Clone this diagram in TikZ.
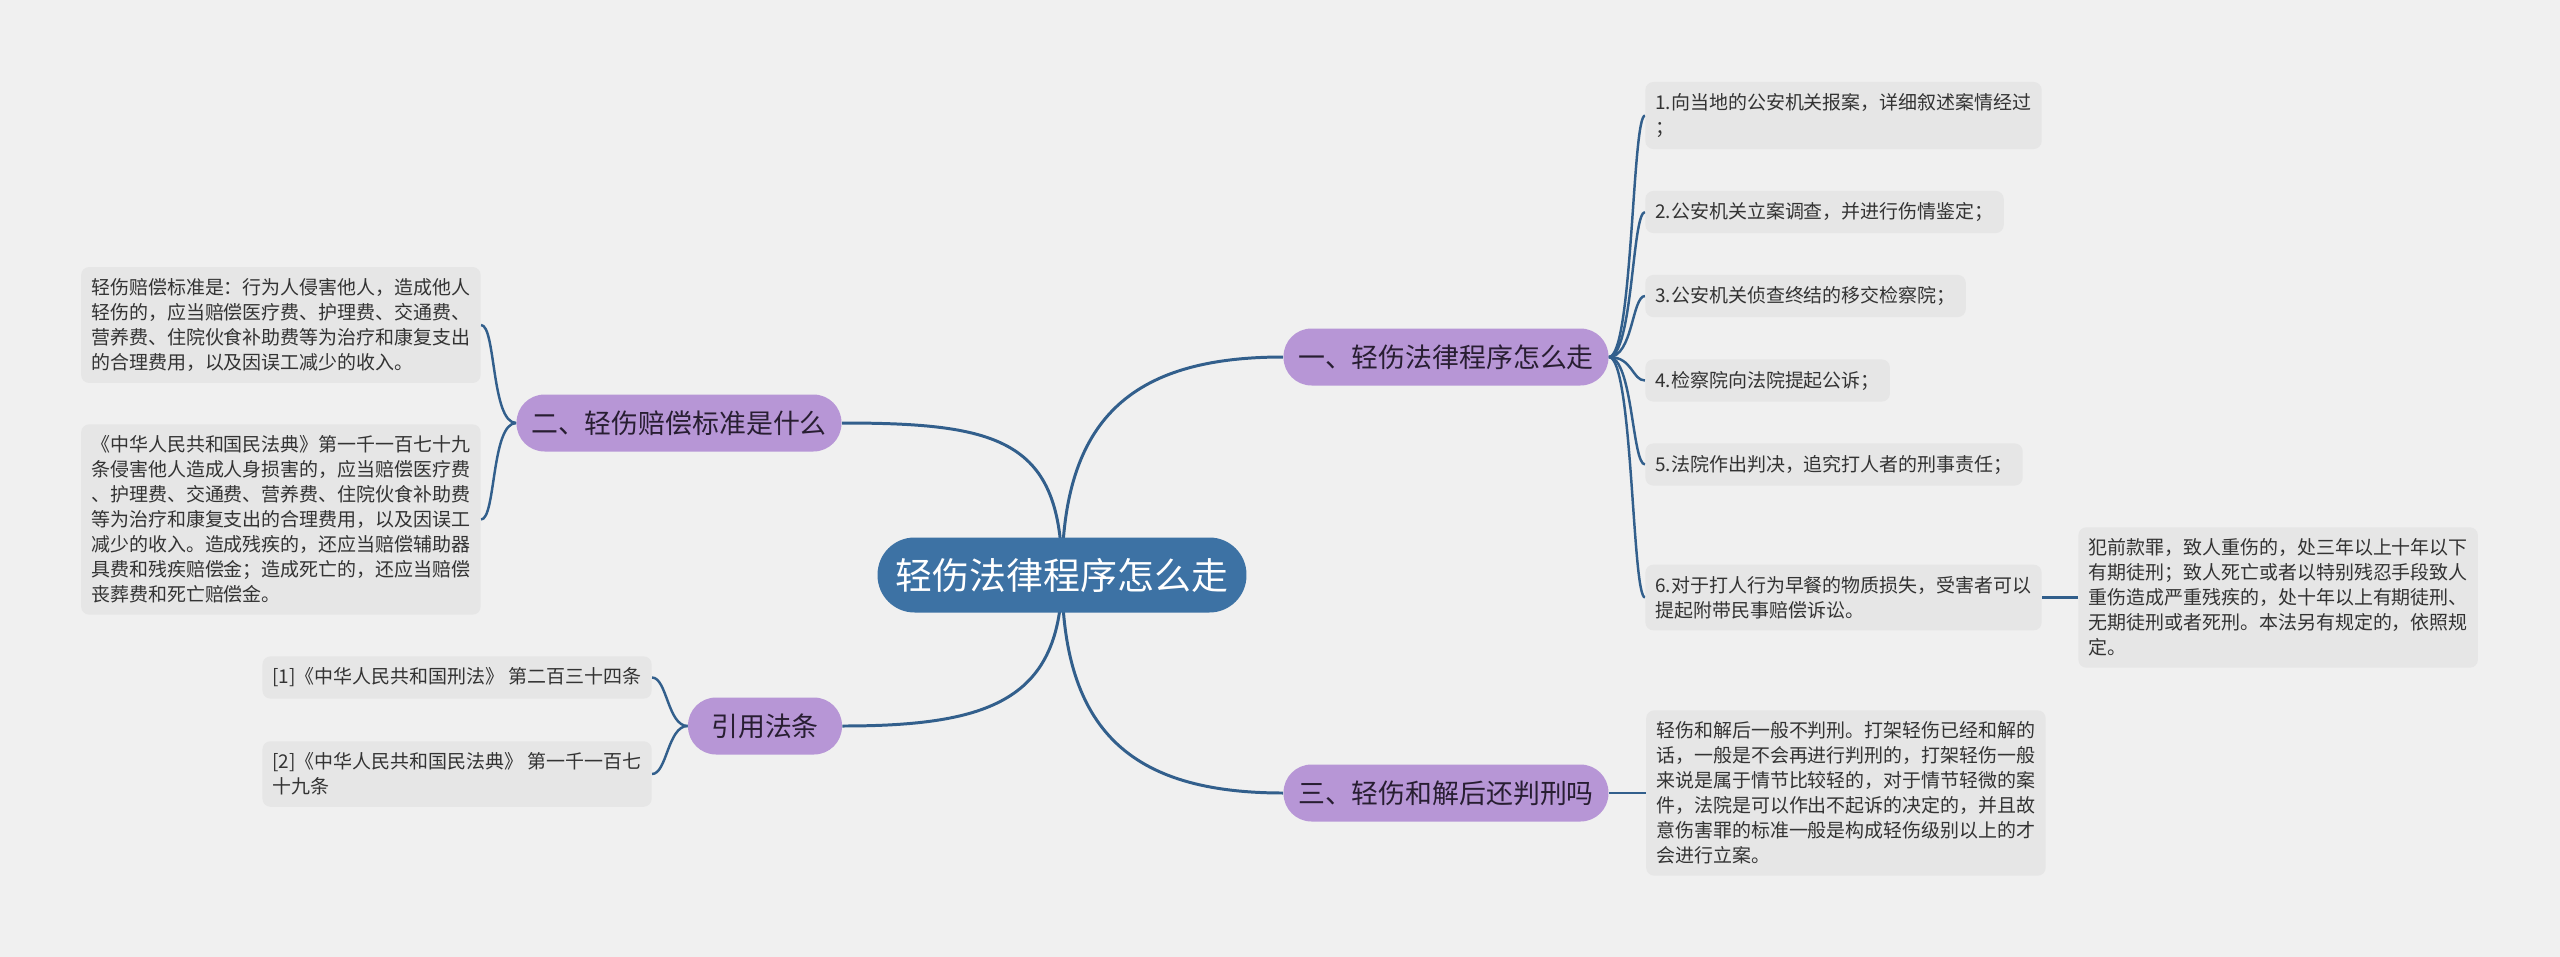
\documentclass[tikz,border=0pt]{standalone}
\usepackage{fontspec}
\setmainfont{Noto Sans CJK SC}
\usetikzlibrary{positioning,backgrounds}
\definecolor{bgcol}{RGB}{240,240,240}
\definecolor{rootcol}{RGB}{61,114,164}
\definecolor{topiccol}{RGB}{183,150,214}
\definecolor{leafcol}{RGB}{230,230,230}
\definecolor{linecol}{RGB}{50,95,140}
\definecolor{txtcol}{RGB}{51,51,51}
\definecolor{txtdark}{RGB}{40,30,50}

\begin{document}
\begin{tikzpicture}[
  x=0.02cm, y=-0.02cm,
  root/.style={rectangle, fill=rootcol, text=white, rounded corners=0.74cm,
               minimum width=7.38cm, minimum height=1.5cm,
               font=\fontsize{21pt}{25pt}\selectfont},
  topic/.style={rectangle, fill=topiccol, text=txtdark, rounded corners=0.56cm,
                minimum width=6.5cm, minimum height=1.14cm,
                font=\fontsize{15.3pt}{18pt}\selectfont},
  leaf/.style={rectangle, fill=leafcol, text=txtcol, rounded corners=0.16cm,
               align=left, inner xsep=0.2cm, inner ysep=0.23cm,
               font=\fontsize{10.8pt}{14.2pt}\selectfont},
  link/.style={draw=linecol, line width=1.7pt},
  sublink/.style={draw=linecol, line width=1.4pt}
]
  \node[root]  (c)     at (1062,575) {轻伤法律程序怎么走};
  \node[topic] (one)   at (1446,357) {一、轻伤法律程序怎么走};
  \node[topic] (two)   at (679,423)  {二、轻伤赔偿标准是什么};
  \node[topic, minimum width=3.08cm] (cite) at (765,726) {引用法条};
  \node[topic] (three) at (1446,793) {三、轻伤和解后还判刑吗};

  \node[leaf, anchor=east] (two1) at (481,325)
    {轻伤赔偿标准是：行为人侵害他人，造成他人\\轻伤的，应当赔偿医疗费、护理费、交通费、\\营养费、住院伙食补助费等为治疗和康复支出\\的合理费用，以及因误工减少的收入。};
  \node[leaf, anchor=east] (two2) at (481,519.5)
    {《中华人民共和国民法典》第一千一百七十九\\条侵害他人造成人身损害的，应当赔偿医疗费\\、护理费、交通费、营养费、住院伙食补助费\\等为治疗和康复支出的合理费用，以及因误工\\减少的收入。造成残疾的，还应当赔偿辅助器\\具费和残疾赔偿金；造成死亡的，还应当赔偿\\丧葬费和死亡赔偿金。};

  \node[leaf, anchor=east] (cite1) at (652,677.5) {[1]《中华人民共和国刑法》 第二百三十四条};
  \node[leaf, anchor=east] (cite2) at (652,774)
    {[2]《中华人民共和国民法典》 第一千一百七\\十九条};

  \node[leaf, anchor=west] (one1) at (1645,115.5) {1.向当地的公安机关报案，详细叙述案情经过\\；};
  \node[leaf, anchor=west] (one2) at (1645,212)   {2.公安机关立案调查，并进行伤情鉴定；};
  \node[leaf, anchor=west] (one3) at (1645,296)   {3.公安机关侦查终结的移交检察院；};
  \node[leaf, anchor=west] (one4) at (1645,380.5) {4.检察院向法院提起公诉；};
  \node[leaf, anchor=west] (one5) at (1645,464.5) {5.法院作出判决，追究打人者的刑事责任；};
  \node[leaf, anchor=west] (one6) at (1645,597.5)
    {6.对于打人行为早餐的物质损失，受害者可以\\提起附带民事赔偿诉讼。};
  \node[leaf, right=0.72cm of one6] (one6a)
    {犯前款罪，致人重伤的，处三年以上十年以下\\有期徒刑；致人死亡或者以特别残忍手段致人\\重伤造成严重残疾的，处十年以上有期徒刑、\\无期徒刑或者死刑。本法另有规定的，依照规\\定。};

  \node[leaf, right=0.74cm of three] (three1)
    {轻伤和解后一般不判刑。打架轻伤已经和解的\\话，一般是不会再进行判刑的，打架轻伤一般\\来说是属于情节比较轻的，对于情节轻微的案\\件，法院是可以作出不起诉的决定的，并且故\\意伤害罪的标准一般是构成轻伤级别以上的才\\会进行立案。};

  \begin{scope}[on background layer]
    \fill[bgcol] (0,0) rectangle (2560,957);
    \draw[link] (c.center) .. controls (1062,420) and (1130,357) .. (one.west);
    \draw[link] (c.center) .. controls (1062,440) and (1000,423) .. (two.east);
    \draw[link] (c.center) .. controls (1062,730) and (1130,793) .. (three.west);
    \draw[link] (c.center) .. controls (1062,700) and (990,726) .. (cite.east);
    \foreach \n in {one1,one2,one3,one4,one5,one6}
      \draw[sublink] (one.east) .. controls +(24,0) and +(-13,0) .. (\n.west);
    \foreach \n in {two1,two2}
      \draw[sublink] (two.west) .. controls +(-25,0) and +(15,0) .. (\n.east);
    \foreach \n in {cite1,cite2}
      \draw[sublink] (cite.west) .. controls +(-20,0) and +(15,0) .. (\n.east);
    \draw[sublink] (one6) -- (one6a);
    \draw[sublink] (three) -- (three1);
  \end{scope}
\end{tikzpicture}
\end{document}
